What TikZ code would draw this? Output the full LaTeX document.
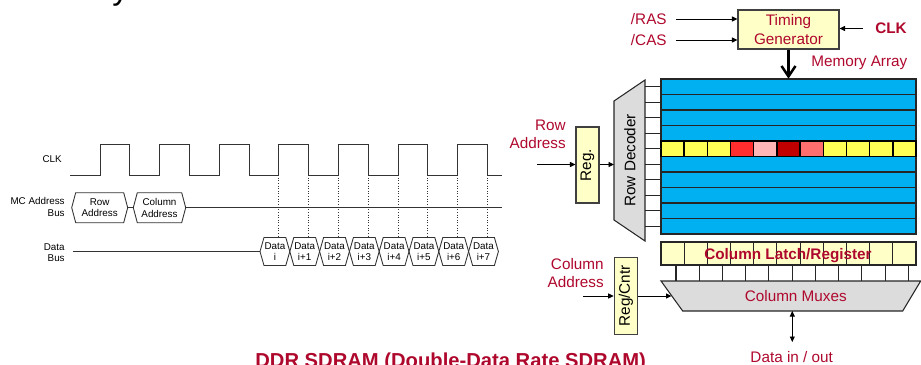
\documentclass[tikz,border=0pt]{standalone}
\usepackage{fontspec}
\setmainfont{Liberation Sans}
\usetikzlibrary{calc,arrows.meta}
\definecolor{lblred}{RGB}{175,8,45}
\definecolor{paleyel}{RGB}{255,255,200}
\definecolor{bityel}{RGB}{255,255,85}
\definecolor{arrblue}{RGB}{0,176,240}
\definecolor{decgray}{RGB}{220,220,220}
\definecolor{bitred}{RGB}{255,45,45}
\definecolor{bitpink}{RGB}{255,182,182}
\definecolor{bitdark}{RGB}{192,0,0}
\definecolor{bitsalmon}{RGB}{255,110,110}
\def\hexbox(#1,#2,#3,#4)#5#6{%
  \draw[hexline] (#1,{(#3+#4)/2}) -- (#1+4,#3) -- (#2-4,#3) -- (#2,{(#3+#4)/2}) -- (#2-4,#4) -- (#1+4,#4) -- cycle;
  \coordinate (#5-w) at (#1,{(#3+#4)/2});
  \coordinate (#5-e) at (#2,{(#3+#4)/2});
  \node[tlabel, align=center] (#5) at ({(#1+#2)/2},{(#3+#4)/2}) {#6};}

\begin{document}
\begin{tikzpicture}[x=0.02cm, y=-0.02cm,
    tlabel/.style={inner sep=0pt, font=\fontsize{5.6}{6.6}\selectfont},
    redlbl/.style={inner sep=0pt, text=lblred, align=right, font=\fontsize{8.7}{10.3}\selectfont},
    boldred/.style={inner sep=0pt, text=lblred, font=\fontsize{8.7}{10.3}\selectfont\bfseries},
    regbox/.style={draw=black!75, fill=paleyel, line width=0.6pt, inner sep=0pt, font=\fontsize{8.7}{10.3}\selectfont},
    rowbox/.style={draw=black!85, fill=arrblue, line width=0.8pt},
    hexline/.style={draw=black!80, line width=0.5pt},
    wave/.style={black!80, line width=0.5pt},
    dotline/.style={black!80, line width=0.5pt, densely dotted},
    arr/.style={-{Triangle[length=1.1mm,width=1mm]}, line width=0.5pt},
    thickarr/.style={-{Straight Barb[length=2.1mm,width=2.8mm]}, line width=1.4pt},
    dblarr/.style={{Triangle[length=1.1mm,width=1mm]}-{Triangle[length=1.1mm,width=1mm]}, line width=0.5pt}]
  \useasboundingbox (0,0) rectangle (921,365);
  \clip (0,0) rectangle (921,365);

  %%%%% TIMING %%%%%

  \node[anchor=base west, inner sep=0pt, font=\fontsize{18.7}{20}\selectfont] (ttl) at (112,0) {y};

  \node[tlabel, anchor=east] (clklbl) at (62,159) {CLK};
  \node[tlabel, anchor=east, align=right] (abuslbl) at (65,207) {MC Address\\Bus};
  \node[tlabel, anchor=east, align=right] (dbuslbl) at (65,252.5) {Data\\Bus};

  \draw[wave] (70,175) \foreach \k in {0,...,6} { -- ({100+59.6*\k},175) -- ({100+59.6*\k},144) -- ({129.8+59.6*\k},144) -- ({129.8+59.6*\k},175) } -- (502,175);

  \hexbox(71.7,127.7,192.7,222.7){rowa}{Row\\Address}
  \hexbox(133.3,185.7,192.7,222.7){cola}{Column\\Address}
  \coordinate (abus-end) at (502,207.7);
  \draw[wave] (rowa-e) -- (cola-w);
  \draw[wave] (cola-e) -- (abus-end);

  \foreach \i in {0,...,7} {
    \pgfmathsetmacro\xa{260+29.8*\i}
    \pgfmathsetmacro\xb{260+29.8*(\i+1)}
    \hexbox(\xa,\xb,237.5,265.5){d\i}{Data\\\ifnum\i=0 i\else i+\i\fi}
  }
  \coordinate (dbus-start) at (72.7,251.5);
  \draw[wave] (dbus-start) -- (d0-w);

  \foreach \k in {3,...,6} {
    \draw[dotline] ({100+59.6*\k},175) -- ({100+59.6*\k},237.5);
    \draw[dotline] ({129.8+59.6*\k},175) -- ({129.8+59.6*\k},237.5);
  }

  %%%%% DRAM BLOCK %%%%%

  \node[regbox, text=lblred, align=center, minimum width=2.02cm, minimum height=0.78cm] (tgen) at (788.5,29.5) {Timing\\Generator};
  \node[redlbl, anchor=east] (ras) at (667,19) {/RAS};
  \node[redlbl, anchor=east] (cas) at (667,40) {/CAS};
  \node[boldred, anchor=west] (clkin) at (875,28.5) {CLK};
  \draw[arr] ([xshift=5pt]ras.east) -- (ras.east -| tgen.west);
  \draw[arr] ([xshift=5pt]cas.east) -- (cas.east -| tgen.west);
  \draw[arr] ([xshift=-7pt]clkin.west) -- (clkin.west -| tgen.east);

  \node[redlbl, anchor=west] (marr) at (811,63) {Memory Array};
  \node[inner sep=0pt, minimum width=5.1cm, minimum height=3.1cm] (array) at (788.5,156.5) {};
  \foreach \r in {0,...,9}
    \draw[rowbox] (661,{79+15.5*\r}) rectangle (916,{79+15.5*(\r+1)});
  \foreach \c/\col in {0/bityel,1/bityel,2/bityel,3/bitred,4/bitpink,5/bitdark,6/bitsalmon,7/bityel,8/bityel,9/bityel,10/bityel}
    \draw[fill=\col, line width=0.8pt] ({661+23.18*\c},141) rectangle ({661+23.18*(\c+1)},156.5);
  \draw[line width=1.1pt] (661,141) rectangle (916,156.5);
  \draw[thickarr] (tgen.south) -- (array.north);

  % row decoder
  \draw[draw=black!85, fill=decgray, line width=0.6pt] (614,101) -- (645,80) -- (645,241) -- (614,220) -- cycle;
  \node[inner sep=0pt, font=\fontsize{8.7}{10.3}\selectfont] (rowdec) at (630,160.5) {\rotatebox{90}{Row Decoder}};
  \coordinate (dec-w) at (614,164.5);
  \foreach \r in {0,...,9}
    \draw[black!85, line width=0.6pt] (645,{86.75+15.5*\r}) -- (661,{86.75+15.5*\r});

  \node[regbox, minimum width=0.46cm, minimum height=1.52cm] (reg) at (587.5,165) {\rotatebox{90}{Reg.}};
  \node[redlbl, anchor=east] (rowaddr) at (566,134) {Row\\Address};
  \coordinate (rowin) at (537,164.5);
  \draw[arr] (rowin) -- (rowin -| reg.west);
  \draw[arr] (reg.east |- dec-w) -- (dec-w);

  % column path
  \foreach \c in {0,...,10}
    \draw[draw=black!85, fill=paleyel, line width=0.6pt] ({661+23.18*\c},242) rectangle ({661+23.18*(\c+1)},265);
  \node[boldred] (latch) at (788,255.5) {Column Latch/Register};
  \foreach \c in {0,...,10}
    \draw[black!85, line width=0.6pt] ({676+23.23*\c},265) -- ({676+23.23*\c},281);

  \draw[draw=black!85, fill=decgray, line width=0.6pt] (661,281) -- (920.7,281) -- (902.7,311) -- (682.7,311) -- cycle;
  \node[redlbl] (mux) at (795.8,296) {Column Muxes};
  \coordinate (mux-w) at (671.5,296);
  \coordinate (mux-s) at (792.3,311);

  \node[regbox, minimum width=0.47cm, minimum height=1.54cm] (regc) at (626,295.8) {\rotatebox{90}{Reg/Cntr}};
  \node[redlbl, anchor=east] (coladdr) at (604,273) {Column\\Address};
  \coordinate (colin) at (583.3,296);
  \draw[arr] (colin) -- (colin -| regc.west);
  \draw[arr] (regc.east |- mux-w) -- (mux-w);

  \node[redlbl] (dio) at (791.7,356.7) {Data in / out};
  \draw[dblarr] (mux-s) -- (mux-s |- 0,342);

  \node[anchor=base west, inner sep=0pt, text=lblred, font=\fontsize{11.5}{13}\selectfont\bfseries] (title) at (255,367.6) {DDR SDRAM (Double-Data Rate SDRAM)};
\end{tikzpicture}
\end{document}
